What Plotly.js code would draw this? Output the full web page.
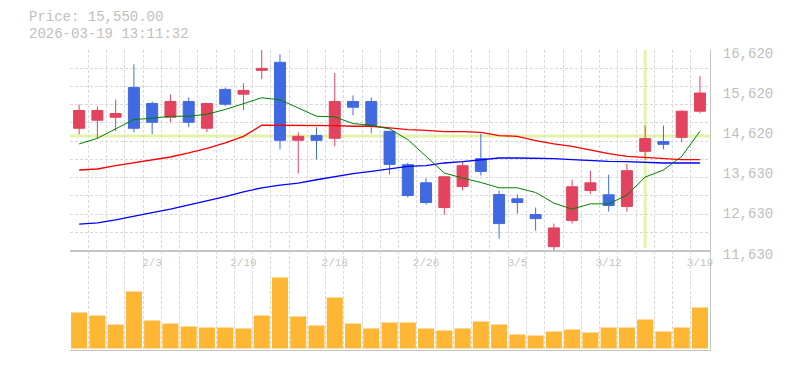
<!DOCTYPE html>
<html><head><meta charset="utf-8">
<script src="https://cdn.plot.ly/plotly-3.0.1.min.js"></script>
<style>html,body{margin:0;padding:0;background:#fff;overflow:hidden;} #chart{width:785px;height:370px;}</style>
</head><body><div id="chart"></div>
<script>
const dates = ['1/28','1/29','1/30','2/2','2/3','2/4','2/5','2/6','2/9','2/10','2/12','2/13','2/16','2/17','2/18','2/19','2/20','2/24','2/25','2/26','2/27','3/2','3/3','3/4','3/5','3/6','3/9','3/10','3/11','3/12','3/13','3/16','3/17','3/18','3/19'];
const openP  = [14674,14874,14948,15689,15290,14948,15340,14674,15640,15522,16114,16313,14375,14492,14424,15340,15340,14599,13768,13319,12703,13227,13918,13027,12920,12528,11730,12379,13127,13020,12728,14100,14342,14449,15098];
const highP  = [15265,15215,15390,16263,15340,15515,15440,15290,15689,15789,16700,16513,14574,14699,16046,15490,15440,14599,13818,13426,13469,13843,14542,13127,13027,12703,12304,13394,13619,13519,13793,14741,14741,15123,15971];
const lowP   = [14524,14424,14599,14574,14524,14824,14699,14574,15223,15123,15896,14150,13551,13900,14225,14998,14549,13526,12952,12778,12528,13127,13501,11929,12553,12129,11640,12304,13045,12603,12603,13893,14150,14325,15048];
const closeP = [15116,15116,15041,14674,14824,15340,14824,15290,15273,15615,16163,14375,14474,14375,15340,15198,14724,13776,13002,12828,13469,13743,13601,12304,12828,12428,12196,13219,13319,12753,13619,14417,14275,15098,15550];
const volume = [36000,33000,24000,57000,28000,25000,22000,21000,21000,20000,33000,71000,32000,23000,51000,25000,20000,26000,26000,20000,18000,20000,27000,24000,14000,13000,17000,19000,16000,21000,21000,29000,17000,21000,41000];
const ma5  = [14285,14424,14659,14891,14923,14973,14973,15023,15140,15290,15432,15382,15183,14973,14958,14791,14749,14659,14392,13975,13561,13436,13327,13194,13194,13077,12813,12663,12795,12795,13012,13461,13636,13975,14599];
const ma25 = [13636,13661,13743,13811,13876,13960,14060,14175,14310,14474,14749,14749,14749,14749,14741,14724,14724,14684,14641,14624,14592,14592,14574,14492,14474,14367,14285,14225,14125,14043,13975,13950,13910,13893,13893];
const ma75 = [12289,12321,12396,12478,12578,12663,12763,12863,12977,13095,13194,13262,13312,13394,13476,13544,13601,13661,13726,13743,13811,13843,13893,13935,13935,13935,13918,13893,13868,13851,13843,13826,13811,13811,13811];
const xLabels = ['2/3','2/10','2/18','2/26','3/5','3/12','3/19'];
const yTickLabels = ['11,630','12,630','13,630','14,620','15,620','16,620'];
const priceMin = 11630, priceMax = 16620;
const lastPrice = '15,550.00';
const stamp = '2026-03-19 13:11:32';
const crossDate = '3/16';
const crossPrice = 14484;

const xs = dates.map((d, i) => i);
const xTickVals = xLabels.map(l => dates.indexOf(l));
const halfGrid = [];
for (let i = 0; i <= dates.length; i++) halfGrid.push(i - 0.5);
const yTickVals = yTickLabels.map((t, i) => priceMin + i * (priceMax - priceMin) / (yTickLabels.length - 1));
const yGrid = [];
for (let k = 0; k <= 11; k++) yGrid.push(priceMin + k * (priceMax - priceMin) / 11);

const RED = '#e2445f', BLUE = '#4169e1', ORANGE = '#fdb734';
const GRID = '#d8d8d8', AXIS = '#c4c4c4';
const MONO = 'Liberation Mono, DejaVu Sans Mono, monospace';

const traces = [
  {type: 'bar', x: xs, y: volume, xaxis: 'x2', yaxis: 'y2', marker: {color: ORANGE, line: {width: 0}}, hoverinfo: 'skip'},
  {type: 'candlestick', x: xs, open: openP, high: highP, low: lowP, close: closeP, xaxis: 'x', yaxis: 'y',
   increasing: {line: {color: RED, width: 1}, fillcolor: RED},
   decreasing: {line: {color: BLUE, width: 1}, fillcolor: BLUE},
   whiskerwidth: 0, hoverinfo: 'skip'},
  {type: 'scatter', mode: 'lines', x: xs, y: ma75, line: {color: '#0000ff', width: 1.3}, xaxis: 'x', yaxis: 'y', hoverinfo: 'skip'},
  {type: 'scatter', mode: 'lines', x: xs, y: ma25, line: {color: '#ff0000', width: 1.3}, xaxis: 'x', yaxis: 'y', hoverinfo: 'skip'},
  {type: 'scatter', mode: 'lines', x: xs, y: ma5, line: {color: '#008000', width: 1}, xaxis: 'x', yaxis: 'y', hoverinfo: 'skip'}
];

const xRange = [-0.5, dates.length - 0.45];
const minorX = {tickmode: 'array', tickvals: halfGrid, showgrid: true, gridcolor: GRID, griddash: '3px,2px', gridwidth: 1, ticks: ''};

const layout = {
  width: 785, height: 370,
  margin: {l: 70, r: 75, t: 50, b: 20, pad: 0},
  paper_bgcolor: '#ffffff', plot_bgcolor: '#ffffff',
  showlegend: false,
  boxgap: 0.14,
  bargap: 0.12,
  font: {family: MONO, color: '#c0c0c0'},
  xaxis: {domain: [0, 1], anchor: 'y', range: xRange, type: 'linear', showticklabels: false, ticks: '',
          tickvals: xTickVals, showgrid: false, zeroline: false, showline: true, linecolor: AXIS, linewidth: 1,
          minor: minorX, rangeslider: {visible: false}, fixedrange: true},
  yaxis: {domain: [0.331, 1], anchor: 'x', side: 'right', range: [priceMin, priceMax], tickmode: 'array',
          tickvals: yTickVals, ticktext: yTickLabels, showgrid: false, zeroline: false, ticks: '',
          showline: true, linecolor: AXIS, linewidth: 1, ticklabelstandoff: 9, ticklabelshift: 3,
          ticklabeloverflow: 'allow',
          tickfont: {family: MONO, size: 14, color: '#c0c0c0'},
          minor: {tickmode: 'array', tickvals: yGrid, showgrid: true, gridcolor: GRID, griddash: '3px,2px', gridwidth: 1, ticks: ''}},
  xaxis2: {domain: [0, 1], anchor: 'y2', range: xRange, type: 'linear', side: 'top', ticklabelposition: 'inside',
           ticklabeloverflow: 'allow', ticklabelstandoff: 7,
           tickmode: 'array', tickvals: xTickVals, ticktext: xLabels, showgrid: false, zeroline: false, ticks: '',
           showline: true, mirror: true, linecolor: AXIS, linewidth: 1,
           tickfont: {family: MONO, size: 11, color: '#c4c4c4'}, minor: minorX},
  yaxis2: {domain: [0, 0.331], anchor: 'x2', side: 'right', range: [-1500, 97800], showticklabels: false,
           showgrid: false, zeroline: false, ticks: '', showline: true, linecolor: AXIS, linewidth: 1},
  shapes: [
    {type: 'line', layer: 'below', xref: 'paper', yref: 'y', x0: 0, x1: 1, y0: crossPrice, y1: crossPrice,
     line: {color: '#e3f4a6', width: 3}},
    {type: 'line', layer: 'below', xref: 'x', yref: 'y', x0: dates.indexOf(crossDate), x1: dates.indexOf(crossDate),
     y0: priceMax, y1: priceMin + 60, line: {color: '#e3f4a6', width: 3}}
  ],
  annotations: [
    {xref: 'paper', yref: 'paper', x: -42 / 640, y: (350 - 17.5) / 300, xanchor: 'left', yanchor: 'middle', borderpad: 0,
     text: 'Price: ' + lastPrice, showarrow: false, font: {family: MONO, size: 14, color: '#c0c0c0'}},
    {xref: 'paper', yref: 'paper', x: -42 / 640, y: (350 - 33.5) / 300, xanchor: 'left', yanchor: 'middle', borderpad: 0,
     text: stamp, showarrow: false, font: {family: MONO, size: 14, color: '#c0c0c0'}}
  ]
};

Plotly.newPlot('chart', traces, layout, {staticPlot: true, displayModeBar: false});
</script>
</body></html>
